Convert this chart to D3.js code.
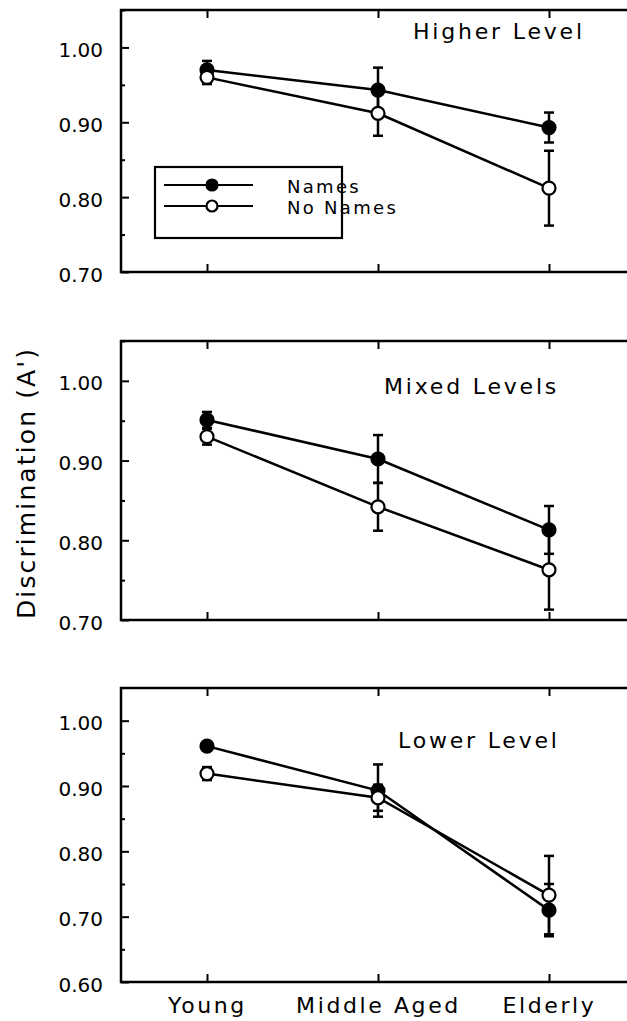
<!DOCTYPE html>
<html>
<head>
<meta charset="utf-8">
<script src="https://d3js.org/d3.v7.min.js"></script>
<style>
  body { margin: 0; background: #fff; }
  svg { display: block; }
  text { font-family: "DejaVu Sans", sans-serif; fill: #000; }
  .tick line { stroke: #000; stroke-width: 2px; }
  .frame { fill: none; stroke: #000; stroke-width: 2.5px; }
  .series { fill: none; stroke: #000; stroke-width: 2.5px; }
  .err { stroke: #000; stroke-width: 2.5px; }
</style>
</head>
<body>
<svg id="chart" width="627" height="1021"></svg>
<script>
// age groups along the x axis
var ages = ["Young", "Middle Aged", "Elderly"];
var seriesNames = ["Names", "No Names"];

// Higher level
var higherNames = [0.970, 0.943, 0.893];
var higherNamesErr = [0.012, 0.03, 0.02];
var higherNoNames = [0.960, 0.912, 0.812];
var higherNoNamesErr = [0.009, 0.03, 0.05];

// Mixed levels
var mixedNames = [0.951, 0.902, 0.813];
var mixedNamesErr = [0.01, 0.03, 0.03];
var mixedNoNames = [0.930, 0.842, 0.763];
var mixedNoNamesErr = [0.01, 0.03, 0.05];

// Lower level
var lowerNames = [0.961, 0.893, 0.710];
var lowerNamesErr = [0.006, 0.04, 0.04];
var lowerNoNames = [0.919, 0.882, 0.733];
var lowerNoNamesErr = [0.01, 0.02, 0.06];

var higherTicks = [0.70, 0.80, 0.90, 1.00];
var mixedTicks = [0.70, 0.80, 0.90, 1.00];
var lowerTicks = [0.60, 0.70, 0.80, 0.90, 1.00];

var svg = d3.select("#chart");
var left = 121, right = 660;

var x = d3.scalePoint().domain(ages).range([207, 549]);

var panels = [
  {title: "Higher Level", top: 10, bottom: 272, dom: [0.70, 1.05], ticks: higherTicks,
   names: higherNames, namesErr: higherNamesErr, noNames: higherNoNames, noNamesErr: higherNoNamesErr,
   tx: 413, ty: 39, legend: true},
  {title: "Mixed Levels", top: 341, bottom: 620, dom: [0.70, 1.05], ticks: mixedTicks,
   names: mixedNames, namesErr: mixedNamesErr, noNames: mixedNoNames, noNamesErr: mixedNoNamesErr,
   tx: 384, ty: 394},
  {title: "Lower Level", top: 688, bottom: 982, dom: [0.60, 1.05], ticks: lowerTicks,
   names: lowerNames, namesErr: lowerNamesErr, noNames: lowerNoNames, noNamesErr: lowerNoNamesErr,
   tx: 398, ty: 748, xlabels: true}
];

panels.forEach(function(p) {
  var y = d3.scaleLinear().domain(p.dom).range([p.bottom, p.top]);
  var g = svg.append("g");

  // minor ticks every 0.05
  var minor = d3.range(p.dom[0] + 0.05, p.dom[1], 0.1);
  g.append("g")
    .attr("transform", "translate(" + left + ",0)")
    .call(d3.axisLeft(y).tickValues(minor).tickSizeInner(-4).tickSizeOuter(0).tickFormat(""))
    .call(function(a) { a.select(".domain").remove(); });

  // major y ticks + labels
  g.append("g")
    .attr("transform", "translate(" + left + ",0)")
    .call(d3.axisLeft(y).tickValues(p.ticks).tickSizeInner(-8).tickSizeOuter(0)
      .tickPadding(18).tickFormat(d3.format(".2f")))
    .call(function(a) {
      a.select(".domain").remove();
      a.selectAll("text").attr("font-size", 20).attr("dy", "0.45em")
        .attr("font-family", "DejaVu Sans");
    });

  // x ticks on top and bottom, pointing in
  g.append("g")
    .attr("transform", "translate(0," + p.top + ")")
    .call(d3.axisTop(x).tickSizeInner(-8).tickSizeOuter(0).tickFormat(""))
    .call(function(a) { a.select(".domain").remove(); });

  var xb = g.append("g")
    .attr("transform", "translate(0," + p.bottom + ")")
    .call(d3.axisBottom(x).tickSizeInner(-8).tickSizeOuter(0))
    .call(function(a) { a.select(".domain").remove(); });
  xb.selectAll("text")
    .attr("font-size", 22).attr("font-family", "DejaVu Sans")
    .style("letter-spacing", "2.6px").attr("y", 31).attr("dy", 0);
  if (!p.xlabels) xb.selectAll("text").remove();

  // frame: top, left, bottom
  g.append("path").attr("class", "frame")
    .attr("d", "M" + right + "," + p.top + "H" + left + "V" + p.bottom + "H" + right);

  g.append("text")
    .attr("x", p.tx).attr("y", p.ty)
    .attr("font-size", 22)
    .style("letter-spacing", "2.8px")
    .text(p.title);

  var line = d3.line().x(function(d, i) { return x(ages[i]); }).y(function(d) { return y(d); });

  var series = [
    {vals: p.names, errs: p.namesErr, fill: "#000"},
    {vals: p.noNames, errs: p.noNamesErr, fill: "#fff"}
  ];

  series.forEach(function(s) {
    g.append("path").datum(s.vals).attr("class", "series").attr("d", line);
  });

  series.forEach(function(s) {
    var eb = g.append("g");
    s.vals.forEach(function(v, i) {
      var cx = x(ages[i]);
      eb.append("line").attr("class", "err")
        .attr("x1", cx).attr("x2", cx).attr("y1", y(v - s.errs[i])).attr("y2", y(v + s.errs[i]));
      [v - s.errs[i], v + s.errs[i]].forEach(function(e) {
        eb.append("line").attr("class", "err")
          .attr("x1", cx - 5).attr("x2", cx + 5).attr("y1", y(e)).attr("y2", y(e));
      });
    });
  });

  series.forEach(function(s) {
    g.selectAll(null).data(s.vals).enter().append("circle")
      .attr("cx", function(d, i) { return x(ages[i]); })
      .attr("cy", function(d) { return y(d); })
      .attr("r", 6.5)
      .attr("fill", s.fill).attr("stroke", "#000").attr("stroke-width", 2.2);
  });

  if (p.legend) {
    var lg = svg.append("g");
    lg.append("rect").attr("x", 155).attr("y", 167).attr("width", 187).attr("height", 71)
      .attr("fill", "#fff").attr("stroke", "#000").attr("stroke-width", 2.2);
    seriesNames.forEach(function(n, i) {
      var ly = 185 + i * 21;
      lg.append("line").attr("x1", 164).attr("x2", 253).attr("y1", ly).attr("y2", ly)
        .attr("stroke", "#000").attr("stroke-width", 2.2);
      lg.append("circle").attr("cx", 212).attr("cy", ly).attr("r", 5.5)
        .attr("fill", i === 0 ? "#000" : "#fff").attr("stroke", "#000").attr("stroke-width", 2.2);
      lg.append("text").attr("x", 287).attr("y", ly + 8)
        .attr("font-size", 18).style("letter-spacing", "2.3px").text(n);
    });
  }
});

// shared y axis title
svg.append("text")
  .attr("transform", "translate(35,484) rotate(-90)")
  .attr("text-anchor", "middle")
  .attr("font-size", 25)
  .attr("textLength", 270)
  .attr("lengthAdjust", "spacing")
  .text("Discrimination (A')");
</script>
</body>
</html>
